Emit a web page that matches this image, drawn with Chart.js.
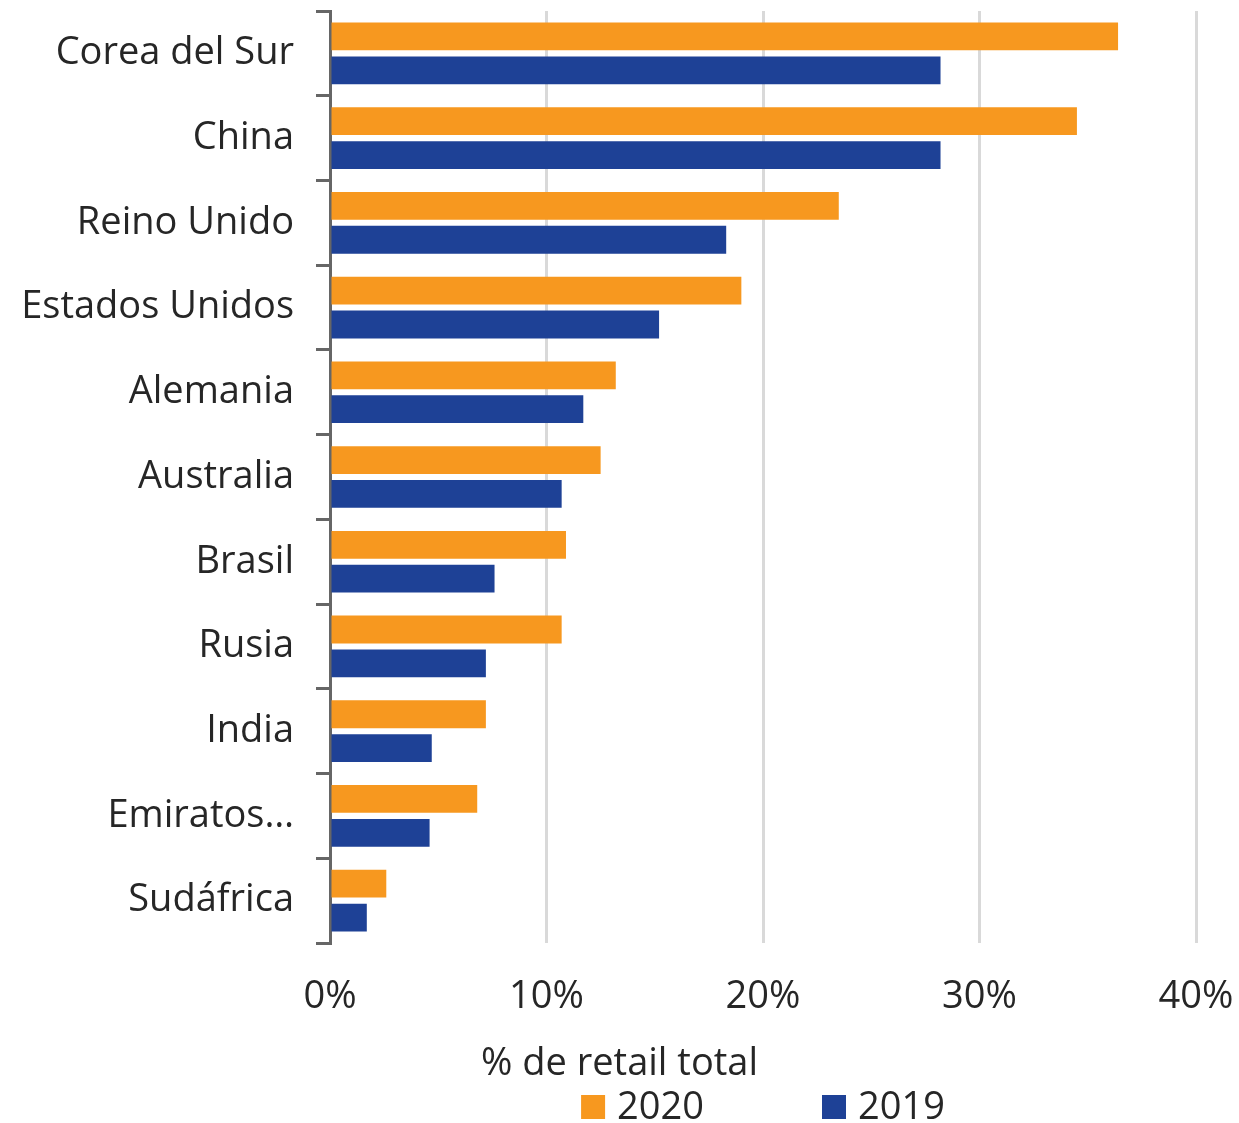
<!DOCTYPE html>
<html lang="es">
<head>
  <meta charset="UTF-8">
  <title>% de retail total 2020 vs 2019</title>
  <script src="https://cdn.jsdelivr.net/npm/chart.js@4"></script>
  <style>
    html, body {
      margin: 0;
      padding: 0;
      background: #fff;
    }
    #wrap {
      width: 1239px;
      height: 1123px;
    }
  </style>
</head>
<body>
  <div id="wrap"><canvas id="chart"></canvas></div>

  <script>
    // datos (% de retail total)
    const paises = ['Corea del Sur', 'China', 'Reino Unido', 'Estados Unidos', 'Alemania',
                    'Australia', 'Brasil', 'Rusia', 'India', 'Emiratos…', 'Sudáfrica'];
    const valores2020 = [36.4, 34.5, 23.5, 19.0, 13.2, 12.5, 10.9, 10.7, 7.2, 6.8, 2.6];
    const valores2019 = [28.2, 28.2, 18.3, 15.2, 11.7, 10.7, 7.6, 7.2, 4.7, 4.6, 1.7];
    const series = ['2020', '2019'];
    const tituloEje = '% de retail total';

    const NARANJA = '#f7981f';
    const AZUL = '#1e4196';
    const TEXTO = '#262626';
    const FUENTE = '"Open Sans", sans-serif';
    const TAM = 38;

    // titulo del eje (centrado en el lienzo) y leyenda (centrada en el area del grafico)
    const extras = {
      id: 'extras',
      afterDraw(chart) {
        const { ctx, chartArea } = chart;
        ctx.save();
        ctx.font = TAM + 'px ' + FUENTE;
        ctx.fillStyle = TEXTO;
        ctx.textBaseline = 'middle';
        ctx.textAlign = 'center';
        ctx.fillText(tituloEje, chart.width / 2, chartArea.bottom + 121);

        const caja = 24, hueco = 12, entre = 118;
        const colores = [NARANJA, AZUL];
        const anchos = series.map(s => caja + hueco + ctx.measureText(s).width);
        const total = anchos[0] + entre + anchos[1];
        let x = (chartArea.left + chartArea.right) / 2 - total / 2;
        const y = chartArea.bottom + 164;
        ctx.textAlign = 'left';
        series.forEach((s, i) => {
          ctx.fillStyle = colores[i];
          ctx.fillRect(x, y - caja / 2, caja, caja);
          ctx.fillStyle = TEXTO;
          ctx.fillText(s, x + caja + hueco, y + 1);
          x += anchos[i] + entre;
        });
        ctx.restore();
      }
    };

    const ctx = document.getElementById('chart').getContext('2d');
    new Chart(ctx, {
      type: 'bar',
      data: {
        labels: paises,
        datasets: [{
          label: series[0],
          data: valores2020,
          backgroundColor: NARANJA,
          categoryPercentage: 0.8,
          barPercentage: 0.82
        }, {
          label: series[1],
          data: valores2019,
          backgroundColor: AZUL,
          categoryPercentage: 0.8,
          barPercentage: 0.82
        }]
      },
      options: {
        indexAxis: 'y',
        responsive: true,
        maintainAspectRatio: false,
        animation: false,
        layout: {
          padding: { top: 11, left: 0, right: 0, bottom: 105 }
        },
        plugins: {
          legend: { display: false },
          tooltip: { enabled: false }
        },
        scales: {
          x: {
            min: 0,
            max: 40,
            ticks: {
              stepSize: 10,
              padding: 31,
              color: TEXTO,
              font: { family: FUENTE, size: TAM },
              callback: v => v + '%'
            },
            grid: {
              color: '#d9d9d9',
              lineWidth: 3,
              drawTicks: false
            },
            border: { display: false },
            afterFit: s => {
              s.height = 75;
              s.paddingRight = 43;
            }
          },
          y: {
            ticks: {
              padding: 22,
              color: TEXTO,
              font: { family: FUENTE, size: TAM }
            },
            grid: {
              drawOnChartArea: false,
              color: '#666666',
              lineWidth: 3,
              tickLength: 14
            },
            border: { color: '#666666', width: 3 },
            afterFit: s => {
              s.width = 330;
              s.paddingTop = 0;
              s.paddingBottom = 0;
            }
          }
        }
      },
      plugins: [extras]
    });
  </script>
</body>
</html>
